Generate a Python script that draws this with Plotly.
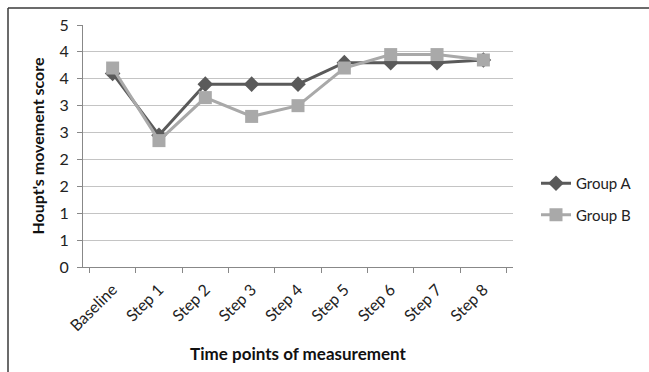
import plotly.graph_objects as go

# Measurement time points and mean Houpt's movement scores per group
time_points = ["Baseline", "Step 1", "Step 2", "Step 3", "Step 4",
               "Step 5", "Step 6", "Step 7", "Step 8"]
group_a = [3.6, 2.45, 3.4, 3.4, 3.4, 3.8, 3.8, 3.8, 3.85]
group_b = [3.7, 2.35, 3.15, 2.8, 3.0, 3.7, 3.95, 3.95, 3.85]

# y ticks every 0.5, labels shown rounded to whole numbers (half away from zero)
y_tick_vals = [0, 0.5, 1.0, 1.5, 2.0, 2.5, 3.0, 3.5, 4.0, 4.5]
y_tick_text = ["0", "1", "1", "2", "2", "3", "3", "4", "4", "5"]

FONT = "Lato, 'Open Sans', sans-serif"
W, H = 649, 372
ML, MR, MT, MB = 83, 136, 25, 105
PW = W - ML - MR
PH = H - MT - MB

fig = go.Figure()
fig.add_trace(go.Scatter(
    x=time_points, y=group_a, name="Group A", mode="lines+markers",
    legendgroup="a",
    line=dict(color="#5a5a5a", width=3),
    marker=dict(symbol="diamond", size=12, color="#5a5a5a"),
))
fig.add_trace(go.Scatter(
    x=time_points, y=group_b, name="Group B", mode="lines+markers",
    legendgroup="b",
    line=dict(color="#a9a9a9", width=3),
    marker=dict(symbol="square", size=13, color="#a9a9a9"),
))

def px_x(p):
    return (p - ML) / PW

def px_y(p):
    return (H - MB - p) / PH

# outer chart frame (left and top edges visible)
fig.add_shape(type="line", xref="paper", yref="paper",
              x0=px_x(8), x1=px_x(8), y0=px_y(8), y1=px_y(400),
              line=dict(color="#3a3a3a", width=1.5))
fig.add_shape(type="line", xref="paper", yref="paper",
              x0=px_x(8), x1=px_x(700), y0=px_y(8), y1=px_y(8),
              line=dict(color="#3a3a3a", width=1.5))

fig.update_layout(
    width=W, height=H,
    margin=dict(l=ML, r=MR, t=MT, b=MB),
    paper_bgcolor="white", plot_bgcolor="white",
    font=dict(family=FONT, size=14, color="#222222"),
    showlegend=True,
    legend=dict(
        x=px_x(536), y=px_y(167), xanchor="left", yanchor="top",
        font=dict(family=FONT, size=15, color="#222222"),
        tracegroupgap=9, itemwidth=30,
        bgcolor="rgba(0,0,0,0)",
    ),
    xaxis=dict(
        type="category",
        automargin=False,
        tickangle=-45,
        tickson="boundaries",
        ticks="outside", ticklen=5, tickcolor="#888888",
        showline=True, linecolor="#888888", linewidth=1,
        showgrid=False,
        ticklabelstandoff=6,
        tickfont=dict(family=FONT, size=16, color="#222222"),
        title=dict(text="<b>Time points of measurement</b>",
                   font=dict(family=FONT, size=17, color="#111111"),
                   standoff=14),
    ),
    yaxis=dict(
        range=[0, 4.5],
        automargin=False,
        tickvals=y_tick_vals, ticktext=y_tick_text,
        ticks="outside", ticklen=5, tickcolor="#888888",
        showline=True, linecolor="#888888", linewidth=1,
        showgrid=True, gridcolor="#c4c4c4", gridwidth=1,
        zeroline=False,
        ticklabelstandoff=5,
        tickfont=dict(family=FONT, size=16, color="#222222"),
        title=dict(text="<b>Houpt's movement score</b>",
                   font=dict(family=FONT, size=16, color="#111111"),
                   standoff=10),
    ),
)

fig.write_html("out.html")
